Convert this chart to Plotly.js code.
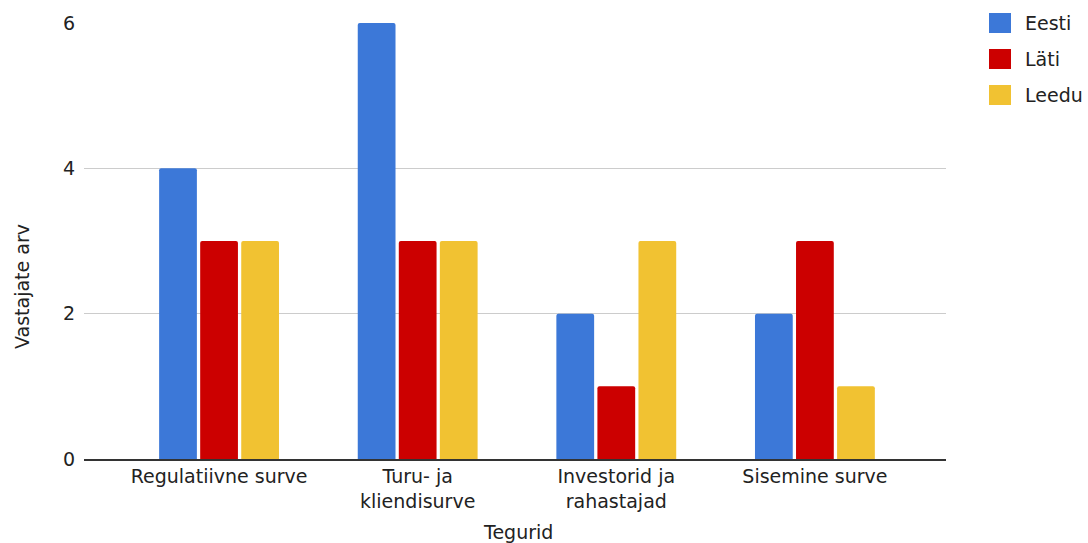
<!DOCTYPE html>
<html><head><meta charset="utf-8">
<script src="https://cdn.plot.ly/plotly-3.0.1.min.js"></script>
<style>html,body{margin:0;padding:0;background:#fff}#chart{width:1088px;height:543px}</style>
</head><body><div id="chart"></div>
<script>
const categories = ["Regulatiivne surve", "Turu- ja<br>kliendisurve", "Investorid ja<br>rahastajad", "Sisemine surve"];
const seriesNames = ["Eesti", "Läti", "Leedu"];
const eesti = [4, 6, 2, 2];
const lati = [3, 3, 1, 3];
const leedu = [3, 3, 3, 1];
const colors = ["#3c78d8", "#cc0000", "#f1c232"];
const yTicks = [0, 2, 4, 6];

const W = 1088, H = 543;
const M = {l: 84, r: 142, t: 23, b: 84};
const pw = W - M.l - M.r, ph = H - M.t - M.b;
const px = x => (x - M.l) / pw;
const py = y => (H - M.b - y) / ph;

const FONT = "DejaVu Sans, Liberation Sans, Arial, sans-serif";
const FS = 19;
const values = [eesti, lati, leedu];
const traces = seriesNames.map((n, i) => ({
  type: "bar", name: n, x: categories, y: values[i],
  marker: {color: colors[i], cornerradius: 2},
  showlegend: false, hoverinfo: "skip"
}));

const shapes = [], annotations = [];
const legY = [23, 59, 95];
seriesNames.forEach((n, i) => {
  shapes.push({type: "rect", xref: "paper", yref: "paper",
    x0: px(989), x1: px(1011), y0: py(legY[i] + 10), y1: py(legY[i] - 10),
    fillcolor: colors[i], line: {width: 0}});
  annotations.push({xref: "paper", yref: "paper", x: px(1023), y: py(legY[i]),
    xanchor: "left", yanchor: "middle", text: n, showarrow: false,
    font: {family: FONT, size: FS, color: "#222"}});
});
annotations.push({xref: "paper", yref: "paper", x: px(518), y: py(532),
  xanchor: "center", yanchor: "middle", text: "Tegurid", showarrow: false,
  font: {family: FONT, size: FS, color: "#222"}});
annotations.push({xref: "paper", yref: "paper", x: px(22), y: py(287),
  xanchor: "center", yanchor: "middle", text: "Vastajate arv", textangle: -90, showarrow: false,
  font: {family: FONT, size: FS, color: "#222"}});

const layout = {
  width: W, height: H, margin: M,
  paper_bgcolor: "#fff", plot_bgcolor: "#fff",
  font: {family: FONT, size: FS, color: "#222"},
  barmode: "group", bargap: 0.38, bargroupgap: 0.08,
  xaxis: {type: "category", range: [-0.68, 3.66], showgrid: false,
    showline: true, linecolor: "#333", linewidth: 1.5, ticks: "",
    tickfont: {family: FONT, size: FS, color: "#222"}, fixedrange: true},
  yaxis: {range: [0, 6], tickvals: yTicks, ticktext: yTicks.map(String),
    showgrid: true, gridcolor: "#cccccc", gridwidth: 1, zeroline: false,
    showline: false, ticks: "", ticklabelstandoff: 8,
    tickfont: {family: FONT, size: FS, color: "#222"}, fixedrange: true},
  shapes: shapes, annotations: annotations
};
Plotly.newPlot("chart", traces, layout, {displayModeBar: false, staticPlot: true});
</script></body></html>
